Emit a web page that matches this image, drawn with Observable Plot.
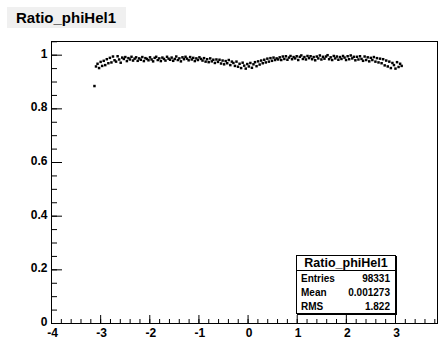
<!DOCTYPE html>
<html>
<head>
<meta charset="utf-8">
<script src="https://cdn.jsdelivr.net/npm/d3@7"></script>
<script src="https://cdn.jsdelivr.net/npm/@observablehq/plot@0.6"></script>
<style>
  body { margin: 0; background: #fff; }
  #wrap { position: relative; width: 438px; height: 342px; font-family: "Liberation Sans", Arial, sans-serif; }
  #chart svg text { font-weight: bold; font-size: 12px; fill: #000; }
  .ttl { position: absolute; left: 7px; top: 7px; width: 119px; height: 21px; background: #f0f0f0;
         font-weight: bold; font-size: 15px; line-height: 21px; padding-left: 9px; box-sizing: border-box; color: #000; }
  .stats { position: absolute; left: 296px; top: 255px; width: 100px; height: 59px; box-sizing: border-box;
           border: 1px solid #000; box-shadow: 1px 1px 0 #000; background: #fff; font-weight: bold; color: #000; }
  .stats .hd { height: 14px; line-height: 14px; text-align: center; font-size: 12.5px; border-bottom: 1px solid #000; }
  .stats .row { height: 14px; line-height: 14px; font-size: 10px; display: flex; justify-content: space-between; padding: 0 5px 0 4px; }
  .stats .rows { padding-top: 1px; }
</style>
</head>
<body>
<div id="wrap">
  <div id="chart"></div>
  <div class="ttl">Ratio_phiHel1</div>
  <div class="stats" id="stats"></div>
</div>
<script>
const histTitle = "Ratio_phiHel1";
const statLabels = ["Entries", "Mean", "RMS"];
const statValues = ["98331", "0.001273", "1.822"];

const nBins = 200;
const xMin = -3.14159, xMax = 3.14159;
const ratio = [
  0.885, 0.958, 0.968, 0.952, 0.975, 0.960, 0.979, 0.963, 0.985, 0.970,
  0.990, 0.973, 0.995, 0.981, 0.976, 0.996, 0.984, 0.972, 0.991, 0.986,
  0.993, 0.978, 0.989, 0.984, 0.994, 0.980, 0.987, 0.992, 0.979, 0.988,
  0.983, 0.993, 0.978, 0.989, 0.986, 0.981, 0.992, 0.984, 0.977, 0.990,
  0.994, 0.982, 0.988, 0.978, 0.991, 0.986, 0.980, 0.994, 0.987, 0.983,
  0.991, 0.979, 0.986, 0.995, 0.982, 0.988, 0.977, 0.992, 0.985, 0.994,
  0.987, 0.981, 0.993, 0.984, 0.990, 0.978, 0.988, 0.982, 0.992, 0.986,
  0.980, 0.989, 0.976, 0.985, 0.974, 0.988, 0.977, 0.983, 0.971, 0.984,
  0.975, 0.983, 0.969, 0.980, 0.966, 0.978, 0.970, 0.982, 0.963, 0.976,
  0.971, 0.960, 0.976, 0.957, 0.968, 0.952, 0.972, 0.961, 0.950, 0.967,
  0.958, 0.971, 0.953, 0.966, 0.974, 0.959, 0.977, 0.965, 0.980, 0.970,
  0.983, 0.973, 0.987, 0.976, 0.989, 0.979, 0.991, 0.982, 0.988, 0.984,
  0.992, 0.982, 0.995, 0.986, 0.996, 0.983, 0.991, 0.997, 0.985, 0.993,
  0.988, 0.996, 0.982, 0.994, 0.999, 0.986, 0.993, 0.984, 0.997, 0.989,
  0.996, 0.985, 0.993, 0.981, 0.995, 0.988, 0.999, 0.984, 0.994, 0.987,
  0.995, 1.000, 0.985, 0.992, 0.982, 0.997, 0.988, 0.995, 0.983, 0.993,
  0.986, 0.997, 0.991, 0.982, 0.996, 0.985, 0.999, 0.988, 0.994, 0.981,
  0.994, 0.984, 0.996, 0.986, 0.979, 0.995, 0.982, 0.992, 0.977, 0.990,
  0.982, 0.993, 0.976, 0.989, 0.973, 0.987, 0.970, 0.985, 0.962, 0.980,
  0.958, 0.976, 0.952, 0.971, 0.963, 0.950, 0.974, 0.956, 0.968, 0.960
];
const xMajor = [-4, -3, -2, -1, 0, 1, 2, 3];
const xMinor = d3.range(-40, 39, 2).map(v => v / 10);
const yMajor = [0, 0.2, 0.4, 0.6, 0.8, 1];
const yMinor = d3.range(0, 106, 5).map(v => v / 100);

const bw = (xMax - xMin) / nBins;
const pts = ratio.map((v, i) => ({x: xMin + (i + 0.5) * bw, y: v}));

const W = 438, H = 342, mL = 51, mR = 1, mT = 41, mB = 19;
const fH = H - mT - mB, fW = W - mL - mR;

const chart = Plot.plot({
  width: W, height: H,
  marginLeft: mL, marginRight: mR, marginTop: mT, marginBottom: mB,
  style: {fontFamily: "'Liberation Sans', Arial, sans-serif", fontSize: "12px", fontWeight: "bold", color: "#000", background: "#fff"},
  x: {domain: [-4, 3.855]},
  y: {domain: [0, 1.051]},
  marks: [
    Plot.tickX(xMinor, {x: d => d, insetTop: fH - 4, stroke: "#000"}),
    Plot.tickX(xMajor, {x: d => d, insetTop: fH - 8, stroke: "#000"}),
    Plot.tickY(yMinor, {y: d => d, insetRight: fW - 6, stroke: "#000"}),
    Plot.tickY(yMajor, {y: d => d, insetRight: fW - 11, stroke: "#000"}),
    Plot.axisX({ticks: xMajor, tickSize: 0, tickPadding: 5, tickFormat: d => String(d), label: null, fill: "#000", dx: 1}),
    Plot.axisY({ticks: yMajor, tickSize: 0, tickPadding: 4, tickFormat: d => String(d), label: null, fill: "#000", dy: -1.5}),
    Plot.frame({stroke: "#000"}),
    Plot.dot(pts, {x: "x", y: "y", symbol: "square", r: 1.4, fill: "#000", stroke: null})
  ]
});
document.getElementById("chart").appendChild(chart);

const st = document.getElementById("stats");
let html = `<div class="hd">${histTitle}</div><div class="rows">`;
statLabels.forEach((l, i) => { html += `<div class="row"><span>${l}</span><span>${statValues[i]}</span></div>`; });
html += `</div>`;
st.innerHTML = html;
</script>
</body>
</html>
